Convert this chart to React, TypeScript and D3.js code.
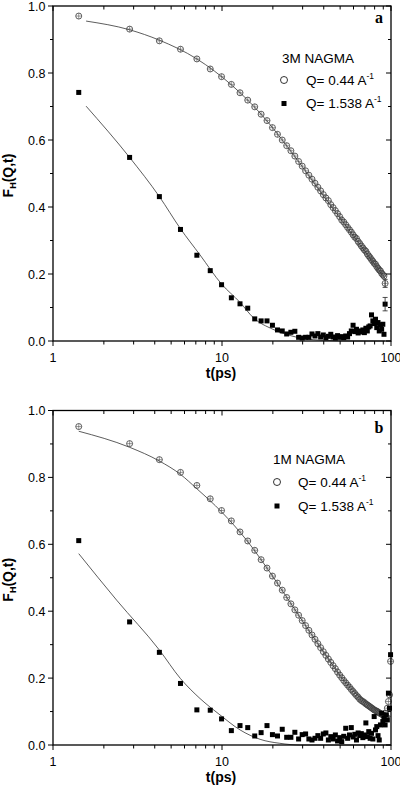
import React from 'react';
import * as d3 from 'd3';

// time grid (ps)
const times = [1.42, 2.84, 4.26, 5.68, 7.10, 8.52, 9.94, 11.36, 12.78, 14.20, 15.62, 17.04, 18.46, 19.88, 21.30, 22.72, 24.14, 25.56, 26.98, 28.40, 29.82, 31.24, 32.66, 34.08, 35.50, 36.92, 38.34, 39.76, 41.18, 42.60, 44.02, 45.44, 46.86, 48.28, 49.70, 51.12, 52.54, 53.96, 55.38, 56.80, 58.22, 59.64, 61.06, 62.48, 63.90, 65.32, 66.74, 68.16, 69.58, 71.00, 72.42, 73.84, 75.26, 76.68, 78.10, 79.52, 80.94, 82.36, 83.78, 85.20, 86.62, 88.04, 89.46, 90.88, 92.30, 93.72, 95.14, 96.56, 97.98, 99.40];

// Panel a: 3M NAGMA
const topCirc = [0.970, 0.931, 0.896, 0.871, 0.842, 0.812, 0.789, 0.766, 0.741, 0.719, 0.699, 0.677, 0.658, 0.637, 0.617, 0.600, 0.583, 0.568,
  0.552, 0.536, 0.522, 0.508, 0.495, 0.483, 0.471, 0.459, 0.448, 0.437, 0.427, 0.419, 0.407, 0.398, 0.389, 0.380, 0.371, 0.361, 0.355, 0.347, 0.339, 0.332, 0.325, 0.317, 0.310, 0.306, 0.297, 0.291, 0.284, 0.278, 0.272, 0.268, 0.260, 0.254, 0.249, 0.243, 0.238, 0.232, 0.229, 0.222, 0.217, 0.212, 0.209, 0.202, 0.198, 0.194, 0.172];
const topSq = [0.742, 0.548, 0.431, 0.333, 0.256, 0.210, 0.168, 0.129, 0.111, 0.098, 0.066, 0.060, 0.060, 0.047, 0.033, 0.030, 0.021, 0.026, 0.029, 0.011, 0.009, 0.011, 0.011, 0.021,
  0.015, 0.022, 0.012, 0.018, 0.010, 0.014, 0.020, 0.012, 0.009, 0.016, 0.011, 0.013, 0.010, 0.015, 0.012,
  0.022, 0.030, 0.047, 0.028, 0.035, 0.024, 0.030, 0.027, 0.033, 0.025, 0.038, 0.030, 0.042,
  0.045, 0.078, 0.060, 0.052, 0.065, 0.040, 0.055, 0.030, 0.048, 0.035, 0.050, 0.020, 0.110];
const topCircFitT = [1.57, 2.84, 4.26, 7.1, 11.4, 17.04, 25.6, 40, 60, 92];
const topCircFitY = [0.955, 0.929, 0.898, 0.842, 0.764, 0.677, 0.566, 0.432, 0.314, 0.188];
const topSqFitT = [1.57, 2.84, 4.26, 5.68, 7.41, 9.94, 12.8, 15.3, 20, 25, 30, 40, 60, 92];
const topSqFitY = [0.701, 0.548, 0.431, 0.335, 0.257, 0.170, 0.115, 0.070, 0.035, 0.017, 0.008, 0.002, 0.0, 0.0];
const topErrT = [92.3, 92.3];
const topErrY = [0.110, 0.172];
const topErrE = [0.020, 0.012];

// Panel b: 1M NAGMA
const botCirc = [0.952, 0.901, 0.853, 0.815, 0.776, 0.736, 0.701, 0.670, 0.637, 0.610, 0.582, 0.554, 0.529, 0.505, 0.484, 0.463, 0.441,
  0.422, 0.404, 0.388, 0.372, 0.357, 0.343, 0.329, 0.316, 0.303, 0.291, 0.279, 0.268, 0.257, 0.247, 0.237, 0.228, 0.218, 0.209, 0.201, 0.193, 0.186, 0.179, 0.173, 0.166, 0.160, 0.154, 0.148, 0.143, 0.137, 0.133, 0.130, 0.127, 0.123, 0.120, 0.117, 0.114, 0.111, 0.108, 0.105, 0.103, 0.101, 0.099, 0.096, 0.094, 0.092, 0.090, 0.088, 0.095, 0.085, 0.110, 0.130, 0.150, 0.250];
const botSq = [0.611, 0.368, 0.277, 0.184, 0.105, 0.104, 0.078, 0.043, 0.058, 0.052, 0.027, 0.037, 0.058, 0.031, 0.027, 0.047, 0.023, 0.023, 0.038, 0.018, 0.031, 0.033, 0.018, 0.015, 0.020,
  0.028, 0.020, 0.033, 0.036, 0.015, 0.025, 0.018, 0.030, 0.012, 0.022, 0.010, 0.026, 0.050, 0.020, 0.030, 0.052, 0.024, 0.032, 0.015, 0.036, 0.028, 0.034, 0.022, 0.030, 0.066,
  0.025, 0.040, 0.020, 0.035, 0.018, 0.085, 0.045, 0.055, 0.028, 0.015, 0.060, 0.095, 0.070, 0.080, 0.060, 0.090, 0.075, 0.155, 0.110, 0.270];
const botCircFitT = [1.42, 2.84, 4.26, 5.68, 7.1, 9.94, 14.2, 19.9, 28.4, 39.8, 56.8, 80, 99.4];
const botCircFitY = [0.938, 0.890, 0.849, 0.809, 0.766, 0.697, 0.608, 0.505, 0.388, 0.279, 0.173, 0.112, 0.085];
const botSqFitT = [1.42, 2.38, 4.26, 5.67, 7.41, 9.73, 12.8, 16.8, 22, 29, 40, 60, 99.4];
const botSqFitY = [0.572, 0.433, 0.284, 0.199, 0.139, 0.090, 0.045, 0.017, 0.005, 0.0, 0.0, 0.0, 0.0];
const botErrT: number[] = [];
const botErrY: number[] = [];
const botErrE: number[] = [];

const xTickLabels = ['1', '10', '100'];
const yTickLabels = ['0.0', '0.2', '0.4', '0.6', '0.8', '1.0'];

const FONT = 'Liberation Sans, Arial, Helvetica, sans-serif';
const X0 = 53, X1 = 391;

type PanelProps = {
  top: number; bottom: number;
  circ: number[]; sq: number[];
  cT: number[]; cY: number[]; sT: number[]; sY: number[];
  eT: number[]; eY: number[]; eE: number[];
  title: string; letter: string;
  leg: { tx: number; ty: number; mx: number; r1: number; r2: number; textX: number; lx: number; ly: number };
};

function Panel(p: PanelProps) {
  const x = d3.scaleLog().domain([1, 100]).range([X0, X1]);
  const y = d3.scaleLinear().domain([0, 1]).range([p.bottom, p.top]);
  const line = d3.line<[number, number]>().x(d => x(d[0])).y(d => y(d[1])).curve(d3.curveMonotoneX);
  const xt = x.ticks();
  const isMajor = (t: number) => Math.abs(Math.log10(t) - Math.round(Math.log10(t))) < 1e-9;
  const yt = d3.range(0, 11).map(i => i / 10);
  const n1 = p.circ.length, n2 = p.sq.length;
  const axisColor = '#000';
  const mid = (p.top + p.bottom) / 2;
  return (
    <g>
      {/* fit lines */}
      <path d={line(p.cT.map((t, i) => [t, p.cY[i]]) as [number, number][]) || ''} fill="none" stroke="#333" strokeWidth={0.8} />
      <path d={line(p.sT.map((t, i) => [t, p.sY[i]]) as [number, number][]) || ''} fill="none" stroke="#333" strokeWidth={0.8} />
      {/* circles */}
      {times.slice(0, n1).map((t, i) => {
        const cx = x(t), cy = y(p.circ[i]);
        return (
          <g key={'c' + i}>
            <circle cx={cx} cy={cy} r={3} fill="none" stroke="#3a3a3a" strokeWidth={0.8} />
            <line x1={cx - 3} x2={cx + 3} y1={cy} y2={cy} stroke="#555" strokeWidth={0.6} />
            <line x1={cx} x2={cx} y1={cy - 3} y2={cy + 3} stroke="#555" strokeWidth={0.6} />
          </g>
        );
      })}
      {/* squares */}
      {times.slice(0, n2).map((t, i) => (
        <rect key={'s' + i} x={x(t) - 2.5} y={y(p.sq[i]) - 2.5} width={5} height={5} fill="#000" />
      ))}
      {/* error bars */}
      {p.eT.map((t, i) => {
        const cx = x(t);
        return (
          <g key={'e' + i} stroke="#222" strokeWidth={0.8}>
            <line x1={cx} x2={cx} y1={y(p.eY[i] - p.eE[i])} y2={y(p.eY[i] + p.eE[i])} />
            <line x1={cx - 2.5} x2={cx + 2.5} y1={y(p.eY[i] - p.eE[i])} y2={y(p.eY[i] - p.eE[i])} />
            <line x1={cx - 2.5} x2={cx + 2.5} y1={y(p.eY[i] + p.eE[i])} y2={y(p.eY[i] + p.eE[i])} />
          </g>
        );
      })}
      {/* frame */}
      <rect x={X0} y={p.top} width={X1 - X0} height={p.bottom - p.top} fill="none" stroke={axisColor} strokeWidth={1.3} />
      {/* x ticks */}
      {xt.map((t, i) => {
        const L = isMajor(t) ? 5 : 3.5;
        return (
          <g key={'xt' + i} stroke={axisColor} strokeWidth={1}>
            <line x1={x(t)} x2={x(t)} y1={p.bottom} y2={p.bottom + L} />
            <line x1={x(t)} x2={x(t)} y1={p.top} y2={p.top + L} />
          </g>
        );
      })}
      {[1, 10, 100].map((t, i) => (
        <text key={'xl' + i} x={x(t)} y={p.bottom + 21} fontSize={12.5} fontFamily={FONT} textAnchor="middle">{xTickLabels[i]}</text>
      ))}
      {/* y ticks */}
      {yt.map((v, i) => {
        const L = i % 2 === 0 ? 5 : 3;
        return (
          <g key={'yt' + i} stroke={axisColor} strokeWidth={1}>
            <line x1={X0 - L} x2={X0} y1={y(v)} y2={y(v)} />
            <line x1={X1 - L} x2={X1} y1={y(v)} y2={y(v)} />
          </g>
        );
      })}
      {yTickLabels.map((s, i) => (
        <text key={'yl' + i} x={45.5} y={y(i * 0.2) + 4.5} fontSize={12.5} fontFamily={FONT} textAnchor="end">{s}</text>
      ))}
      {/* axis titles */}
      <text x={221} y={p.bottom + 36.5} fontSize={14} fontWeight="bold" fontFamily={FONT} textAnchor="middle">t(ps)</text>
      <text transform={`translate(12.5,${mid + 2}) rotate(-90)`} fontSize={14} fontWeight="bold" fontFamily={FONT} textAnchor="middle">
        F<tspan fontSize={9} dy={3}>H</tspan><tspan dy={-3}>(Q,t)</tspan>
      </text>
      {/* panel letter */}
      <text x={p.leg.lx} y={p.leg.ly} fontSize={16} fontWeight="bold" fontFamily="Liberation Serif, Times New Roman, serif" textAnchor="middle">{p.letter}</text>
      {/* legend */}
      <text x={p.leg.tx} y={p.leg.ty} fontSize={13.5} fontFamily={FONT}>{p.title}</text>
      <circle cx={p.leg.mx} cy={p.leg.r1} r={3.5} fill="none" stroke="#000" strokeWidth={0.8} />
      <text x={p.leg.textX} y={p.leg.r1 + 4.5} fontSize={13.5} fontFamily={FONT}>
        Q= 0.44 A<tspan fontSize={8.5} dy={-6}>-1</tspan>
      </text>
      <rect x={p.leg.mx - 2.5} y={p.leg.r2 - 2.5} width={5} height={5} fill="#000" />
      <text x={p.leg.textX} y={p.leg.r2 + 4.5} fontSize={13.5} fontFamily={FONT}>
        Q= 1.538 A<tspan fontSize={8.5} dy={-6}>-1</tspan>
      </text>
    </g>
  );
}

export default function App() {
  return (
    <svg width={400} height={787} style={{ position: 'absolute', left: 0, top: 0, background: '#fff' }}>
      <rect x={0} y={0} width={400} height={787} fill="#fff" />
      <Panel top={6} bottom={341} circ={topCirc} sq={topSq}
        cT={topCircFitT} cY={topCircFitY} sT={topSqFitT} sY={topSqFitY}
        eT={topErrT} eY={topErrY} eE={topErrE}
        title="3M NAGMA" letter="a"
        leg={{ tx: 282, ty: 63, mx: 284, r1: 80, r2: 103.5, textX: 306, lx: 379, ly: 23 }} />
      <Panel top={410.5} bottom={745} circ={botCirc} sq={botSq}
        cT={botCircFitT} cY={botCircFitY} sT={botSqFitT} sY={botSqFitY}
        eT={botErrT} eY={botErrY} eE={botErrE}
        title="1M NAGMA" letter="b"
        leg={{ tx: 273, ty: 464, mx: 277, r1: 482, r2: 506, textX: 298, lx: 379, ly: 433 }} />
    </svg>
  );
}
